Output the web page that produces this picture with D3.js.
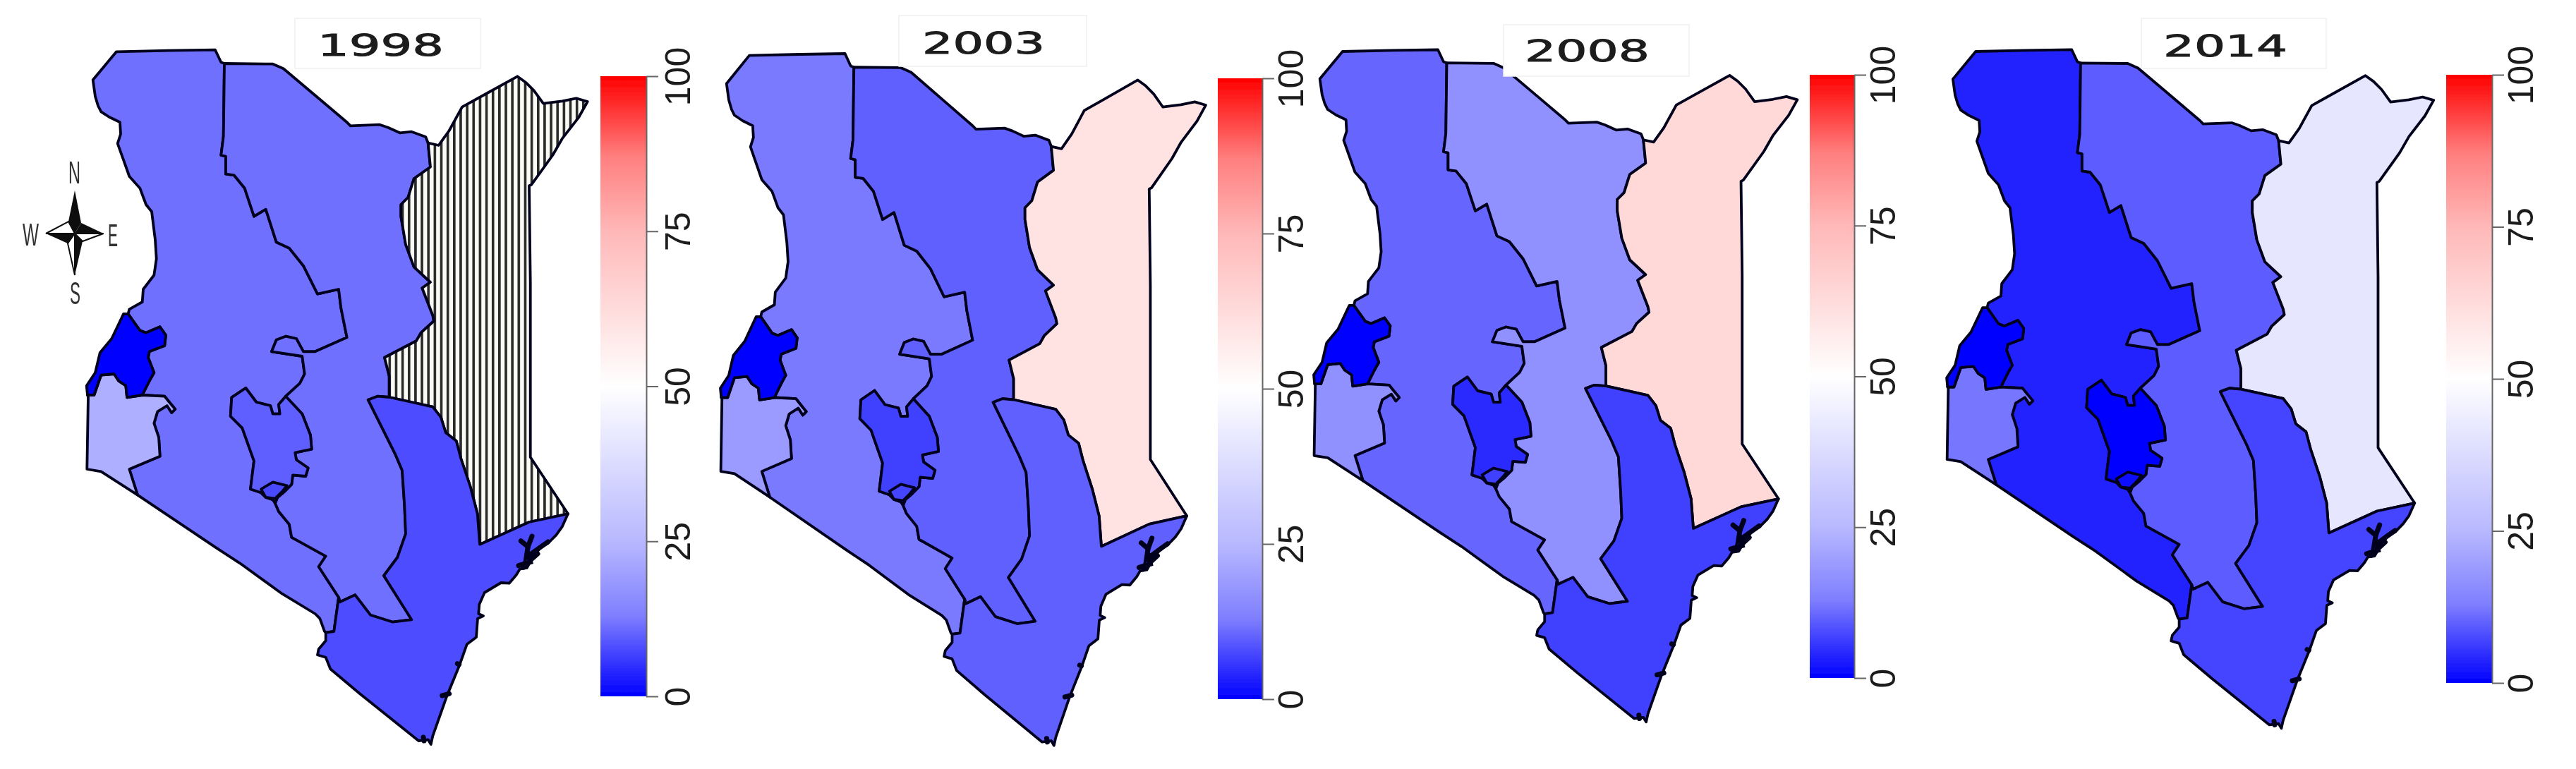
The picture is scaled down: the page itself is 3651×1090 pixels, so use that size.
<!DOCTYPE html>
<html>
<head>
<meta charset="utf-8">
<script src="https://cdn.jsdelivr.net/npm/d3@7"></script>
<style>
html,body{margin:0;padding:0;background:#fff;overflow:hidden}
svg{display:block}
</style>
</head>
<body>
<svg id="chart" width="3651" height="1090"></svg>
<script>
// ---------- values ----------
const years = ["1998","2003","2008","2014"];
const regionNames = ["Rift","Eastern","NorthEastern","Coast","Nyanza","Western","Central","Nairobi"];
const values1998 = [11.4,11.4,null,8,23,0.5,9.7,7.5];
const values2003 = [12.5,9.8,59.9,9.8,18.7,0.5,6.5,7];
const values2008 = [10.4,16.6,63.7,6.5,16.6,0.5,4.3,6.5];
const values2014 = [3.5,9.4,41.2,7,12.1,0.5,0.3,1.6];
const legendTicks = [0,25,50,75,100];
const colorStops = [0,13,25,50,75,87,100];
const colorRange = ["#0000ff","#7f7fff","#b8b8ff","#ffffff","#ffb8b8","#ff7f7f","#ff0000"];
const compassLetters = ["N","S","W","E"];

// ---------- boundary chains (map units) ----------
const rim = [[318,90],[386.7,90.7],[401.7,97.3],[450,138],[491.7,173.3],[496.7,178.3],[538.3,176.7],[550,180.7],[566.7,188.3],[583.3,186.7],[603.3,194],[606.7,202.7]];
const riftEastNorth = [[318,90],[316.7,193.3],[313.3,220],[320,221.7],[320,246.7],[331.7,248.3],[346.7,266.7],[360,306.7],[376.7,296.7],[391.7,343.3],[410,351.7],[430,376.7],[450,416.7],[480,410],[483.3,436.7],[491.7,478.3],[446.7,498.3],[430,498.3],[420,480],[405,476.7],[391.7,481.7],[385,498.3],[428.3,505],[431.7,530],[425,543.3],[405,561.7]];
const riftWest = [[318,90],[313.3,88.3],[305,70.7],[240,71.7],[165,73.3],[131.7,113.3],[135,136.7],[139,150],[143.3,158.3],[155,166],[170,173.3],[171,190],[166.7,203.3],[175,226.7],[183.3,250],[198.3,266.7],[207,290],[215,300],[220,340],[221.7,366.7],[218.3,390],[203,410],[201.7,428],[183.3,438.3],[181.7,445]];
const westernEast = [[181.7,445],[198.3,468.3],[206.7,471.7],[226.7,463.3],[235,475],[233.3,490],[211.7,498.3],[210,506.7],[218.3,528.3],[211.7,540],[201.7,560]];
const westernSouth = [[201.7,560],[180,563.3],[178.3,546.7],[168.3,540],[161.7,530],[143.3,531.7],[133.3,560],[124,560]];
const westernWest = [[124,560],[122.7,546.7],[135,528.3],[141.7,500],[158.3,480],[175,445],[181.7,445]];
const nyanzaEast = [[201.7,560],[233.3,561.7],[240,570],[248.3,580],[243.3,585],[236.7,575],[223.3,583.3],[218.3,600],[225,620],[226.7,646.7],[183.3,665],[195,701.7]];
const nyanzaWest = [[195,701.7],[143.3,668.3],[123.3,665],[125,561.7],[124,560]];
const southBorder = [[195,701.7],[306.7,776.7],[340,798.3],[400,841.7],[446.7,870],[453.3,876.7],[460,895],[461.7,896.7]];
const centralWest = [[405,561.7],[395,573.3],[396.7,586.7],[386.7,586.7],[383.3,575],[363.3,570],[348.3,550],[328.3,563.3],[326.7,590],[343.3,606.7],[360,653.3],[355,693.3],[370,698.3],[376.7,705],[386.7,708.3],[390,713.3]];
const centralEast = [[405,561.7],[428.3,586.7],[440,616.7],[441.7,636.7],[418.3,641.7],[420,651.7],[436.7,663.3],[433.3,675],[415,673.3],[413.3,686.7],[403.3,696.7],[393.3,705],[390,713.3]];
const nairobiRing = [[370,693.3],[386.7,683.3],[406.7,688.3],[400,696.7],[390,706.7],[376.7,705]];
const riftEastSouth = [[390,713.3],[395,725],[410,743.3],[413.3,761.7],[461.7,788.3],[451.7,803.3],[480,846.7]];
const neWest = [[606.7,202.7],[610,236.7],[586.7,253.3],[578.3,280],[568.3,290],[568.3,306.7],[575,346.7],[586.7,378.3],[610,400],[598.3,408.3],[613.3,446.7],[615,455],[596.7,471.7],[590,483.3],[545,506.7],[551.7,533.3],[551.7,563]];
const neNorth = [[606.7,202.7],[621.7,206],[636.7,185],[655,151.7],[683.3,136],[733.3,108.3],[745,116.7],[756.7,128.3],[770,146.7],[796.7,143.3],[816.7,139.3],[832.7,144],[820,166.7],[796.7,196.7],[783.3,220],[753.3,261.7],[750,263.3],[751.7,400],[751.7,648],[805,728.3]];
const neSouth = [[805,728.3],[750,740],[680,771.7]];
const neCoast = [[680,771.7],[676.7,728.3],[666.7,690],[653.3,650],[646.7,625],[631.7,613.3],[625,591.7],[613.3,576.7],[583.3,570],[551.7,563]];
const coastTop = [[521.7,566.7],[535,561.7],[551.7,563]];
const coastWest = [[521.7,566.7],[560,643.3],[570,666.7],[573.3,716.7],[575,756.7],[563.3,790],[544,816],[583.3,878.3],[556.7,881.7],[525,871.7],[503.3,843.3],[481.7,853.3]];
const coastEast = [[805,728.3],[796.7,746.7],[788.3,758.3],[776.7,770],[766.7,775],[753.3,793.3],[746.7,805],[736.7,806.7],[731.7,815],[721.7,826.7],[710,826],[686.7,840],[679.3,856.7],[678.3,870],[685,873],[677,876.7],[675,903.3],[661.7,913.3],[651.7,941.7],[633.3,986.7],[613.3,1043.3],[610.7,1055],[606.7,1048.3],[593.3,1050],[510,983.3],[468.3,948.3],[461.7,931.7],[450,928.3],[451.7,920],[461.7,908.3],[461.7,896.7]];
const coastIslands = [
  [[738.3,766.7],[748.3,775],[754,760]],
  [[748.3,775],[746,790],[757,782],[766.7,775],[776.7,768]],
  [[735,801.7],[751.7,796.7],[748,783]],
  [[742,804],[753,793],[762,785]],
  [[648.3,940.7],[650.7,941.7]],
  [[626.7,986],[636.7,983.3]],
  [[600,1045],[601,1050]]
];
const compassArmsDark = [
  [[106,270],[97,314],[106,331],[115,316]],
  [[146.7,331],[115,316],[106,331]],
  [[65,331],[96,345],[106,331]],
  [[106,390],[117,342],[106,331]]
];
const compassArmsLight = [
  [[65,331],[97,314],[106,331]],
  [[146.7,331],[117,342],[106,331]],
  [[106,390],[96,345],[106,331]]
];

// ---------- polygons composed from the chains ----------
const rev = a => a.slice().reverse();
const regionRings = {
  Rift: [...riftWest, ...westernEast, ...nyanzaEast, ...southBorder, [473.3,895], ...rev(riftEastSouth), ...rev(centralWest), ...rev(riftEastNorth)],
  Eastern: [...rim, ...neWest, [535,561.7], ...coastWest, [480,846.7], ...rev(riftEastSouth), ...rev(centralEast), ...rev(riftEastNorth)],
  NorthEastern: [...neNorth, ...neSouth, ...neCoast, ...rev(neWest)],
  Coast: [...coastTop, ...rev(neCoast), ...rev(neSouth), ...coastEast, [473.3,895], [480,846.7], ...rev(coastWest)],
  Nyanza: [...nyanzaEast, ...nyanzaWest, ...rev(westernSouth)],
  Western: [...westernEast, ...westernSouth, ...westernWest],
  Central: [...centralEast, ...rev(centralWest)],
  Nairobi: nairobiRing
};

// ---------- per-panel layout ----------
const mapDomainX = [165,832.7], mapDomainY = [73.3,1055];
const panelRangeX = [[165,832.7],[1062,1708.9],[1902.8,2547.4],[2800.2,3449.2]];
const panelRangeY = [[73.3,1055],[78.6,1056.7],[73,1023.3],[73,1032.3]];
const legendX = [[851,916],[1726,1789],[2565,2628],[3467,3532]];
const legendY = [[987,108],[991,111],[961,106],[968,106]];
const legendLabelX = [960,1829,2668,3572];
const titleBoxX = [[418,681],[1274,1540],[2131,2394],[3035,3297]];
const titleBoxY = [[26,97],[22,94],[35,108],[26,97]];
const titleTextX = [[450,629],[1307,1481],[2161,2338],[3066,3242]];
const titleTextY = [63,60.5,71.6,64];
const panelValues = [values1998,values2003,values2008,values2014];

const color = d3.scaleLinear().domain(colorStops).range(colorRange);
const svg = d3.select("#chart");
const defs = svg.append("defs");

const soft = defs.append("filter").attr("id","soft").attr("x","-5%").attr("y","-5%").attr("width","110%").attr("height","110%");
soft.append("feGaussianBlur").attr("stdDeviation",0.7);

const hatch = defs.append("pattern").attr("id","hatch").attr("patternUnits","userSpaceOnUse")
  .attr("width",9.15).attr("height",20).attr("x",1.5);
hatch.append("rect").attr("width",9.15).attr("height",20).attr("fill","#fbfbf6");
hatch.append("rect").attr("width",3.6).attr("height",20).attr("fill","#2a2a2a");

const grad = defs.append("linearGradient").attr("id","bar").attr("x1",0).attr("x2",0).attr("y1",1).attr("y2",0);
grad.selectAll("stop").data(colorStops).join("stop")
  .attr("offset",d=>d+"%").attr("stop-color",d=>color(d));

years.forEach((year,p)=>{
  const x = d3.scaleLinear().domain(mapDomainX).range(panelRangeX[p]);
  const y = d3.scaleLinear().domain(mapDomainY).range(panelRangeY[p]);
  const line = d3.line().x(d=>x(d[0])).y(d=>y(d[1]));
  const g = svg.append("g").attr("class","panel").attr("filter","url(#soft)");

  const rows = regionNames.map((name,i)=>({name,value:panelValues[p][i]}));
  g.selectAll("path.region").data(rows).join("path").attr("class","region")
    .attr("d",d=>line(regionRings[d.name])+"Z")
    .attr("fill",d=>d.value===null?"url(#hatch)":color(d.value))
    .attr("stroke","#02021c").attr("stroke-width",3.8).attr("stroke-linejoin","round");
  g.selectAll("path.island").data(coastIslands).join("path").attr("class","island")
    .attr("d",line).attr("fill","none").attr("stroke","#02021c").attr("stroke-width",7).attr("stroke-linecap","round");

  // title box
  g.append("rect").attr("x",titleBoxX[p][0]).attr("y",titleBoxY[p][0])
    .attr("width",titleBoxX[p][1]-titleBoxX[p][0]).attr("height",titleBoxY[p][1]-titleBoxY[p][0])
    .attr("fill","#fff").attr("stroke","#f0f0f0").attr("stroke-width",1.5);
  g.append("text").text(year)
    .attr("x",titleTextX[p][0]).attr("y",titleTextY[p]+15.5)
    .attr("textLength",titleTextX[p][1]-titleTextX[p][0]).attr("lengthAdjust","spacingAndGlyphs")
    .attr("font-family","DejaVu Sans").attr("font-size",42).attr("fill","#1c1c1c")
    .attr("stroke","#1c1c1c").attr("stroke-width",0.9);

  // colour bar
  const [bx0,bx1] = legendX[p];
  g.append("rect").attr("x",bx0).attr("width",bx1-bx0)
    .attr("y",legendY[p][1]).attr("height",legendY[p][0]-legendY[p][1]).attr("fill","url(#bar)");
  const ly = d3.scaleLinear().domain([0,100]).range(legendY[p]);
  const axis = d3.axisRight(ly).tickValues(legendTicks).tickSize(17).tickSizeOuter(0);
  const ax = g.append("g").attr("transform",`translate(${bx1},0)`).call(axis);
  ax.select(".domain").attr("stroke","#666").attr("stroke-width",2);
  ax.selectAll(".tick line").attr("stroke","#666").attr("stroke-width",2);
  ax.selectAll(".tick text")
    .attr("x",null).attr("dy",null)
    .attr("transform",`translate(${legendLabelX[p]-bx1},0) rotate(-90)`)
    .attr("y",0).attr("dy","0.36em").attr("text-anchor","middle")
    .attr("font-family","Liberation Sans").attr("font-size",50).attr("fill","#1a1a1a");
});

// north arrow (first panel only)
const compass = svg.append("g").attr("filter","url(#soft)");
const plain = d3.line();
compass.selectAll("path.light").data(compassArmsLight).join("path").attr("class","light")
  .attr("d",d=>plain(d)+"Z").attr("fill","#fff").attr("stroke","#111").attr("stroke-width",2);
compass.selectAll("path.dark").data(compassArmsDark).join("path").attr("class","dark")
  .attr("d",d=>plain(d)+"Z").attr("fill","#0c0c0c");
const letterX = [[97,114],[99,114],[32,55],[153,167]];
const letterY = [260,431,348,349];
compass.selectAll("text").data(compassLetters).join("text").text(d=>d)
  .attr("x",(d,i)=>letterX[i][0]).attr("y",(d,i)=>letterY[i])
  .attr("textLength",(d,i)=>letterX[i][1]-letterX[i][0]).attr("lengthAdjust","spacingAndGlyphs")
  .attr("font-family","Liberation Sans").attr("font-size",45).attr("fill","#333");
</script>
</body>
</html>
